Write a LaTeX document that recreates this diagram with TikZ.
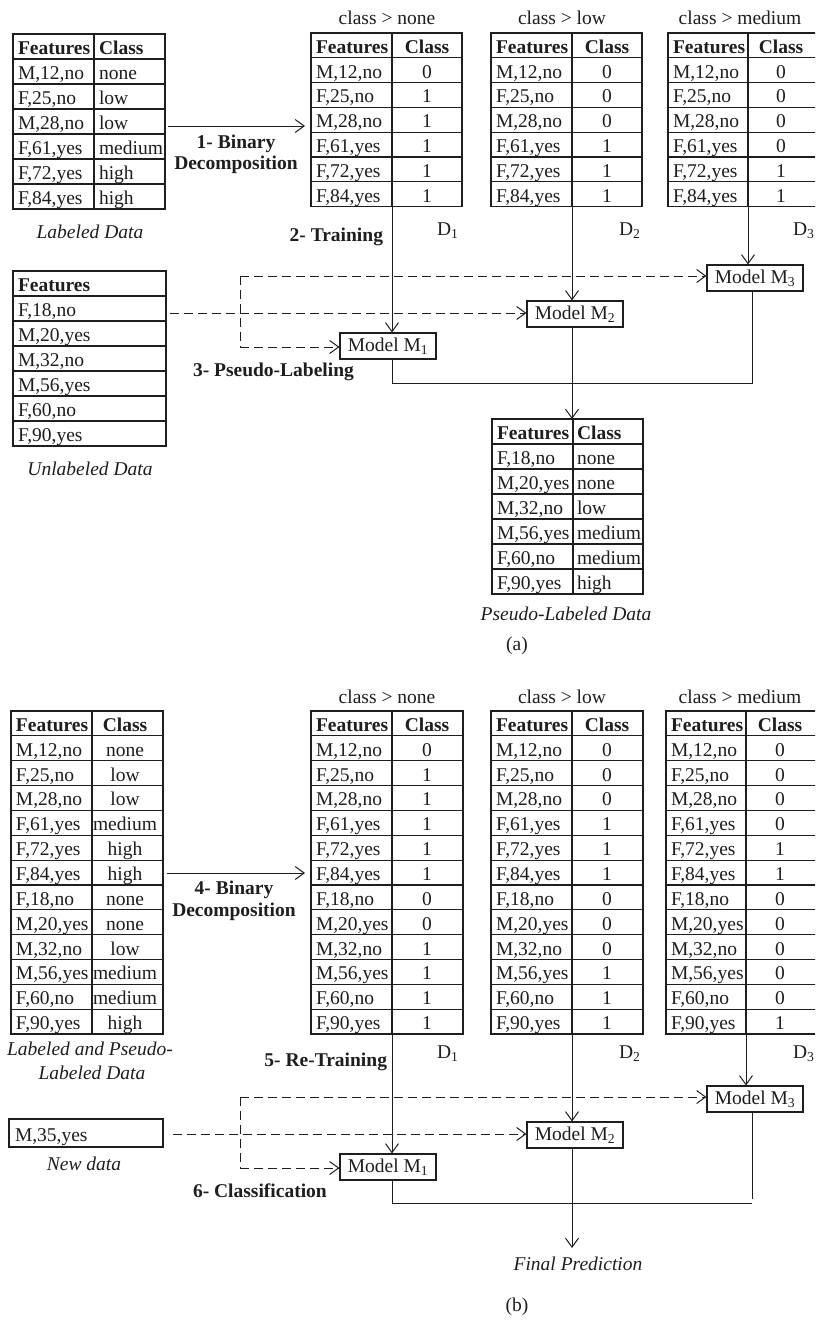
\documentclass[tikz,border=0pt]{standalone}
\usepackage{fontspec}
\setmainfont{Liberation Serif}
\usetikzlibrary{arrows.meta,calc}
\definecolor{ink}{RGB}{30,30,30}
\newcommand{\myfs}{\fontsize{19.5}{22}\selectfont}
\tikzset{
  tb/.style={draw=ink, line width=1.2pt},
  tl/.style={draw=ink, line width=1.1pt},
  txt/.style={inner sep=0pt, outer sep=0pt, text=ink, font=\myfs},
  conn/.style={draw=ink, line width=1pt},
  arr/.style={conn, -{Straight Barb[length=9pt,width=13pt,line width=1pt]}},
  dsh/.style={dash pattern=on 9pt off 5pt},
  model/.style={draw=ink, line width=1.1pt, minimum width=96pt, minimum height=26pt, inner sep=0pt, text=ink, font=\myfs},
}
% \tblgrid{name}{xl}{xd}{xr}{ytop}{rowh}{nrows}
\newcommand{\tblgrid}[7]{%
  \pgfmathsetmacro\tbh{#6*#7}%
  \node[tb, anchor=north west, inner sep=0pt, outer sep=0pt, minimum width={(#4-#2)*1pt}, minimum height={\tbh*1pt}] (#1) at (#2,#5) {};
  \pgfmathtruncatemacro\tbn{#7-1}%
  \foreach \k in {1,...,\tbn} {\draw[tl] (#2,{#5+\k*#6}) -- (#4,{#5+\k*#6});}
  \draw[tl] (#3,#5) -- (#3,{#5+\tbh});
  \coordinate (#1-d) at (#3,{#5+\tbh});
}
% \tbltext{name}{xf}{xc}{anchor}{ytop}{rowh}{list}
\newcommand{\tbltext}[7]{%
  \foreach \ff/\cc [count=\ii from 0] in {#7} {%
    \node[txt, anchor=base west] (#1-f\ii) at (#2,{#5+(\ii+1)*#6-4.5}) {\ff};
    \node[txt, anchor=#4] (#1-c\ii) at (#3,{#5+(\ii+1)*#6-4.5}) {\cc};
  }%
}
% \tblcol{name}{xf}{ytop}{rowh}{list}
\newcommand{\tblcol}[5]{%
  \foreach \ff [count=\ii from 0] in {#5} {%
    \node[txt, anchor=base west] (#1-f\ii) at (#2,{#3+(\ii+1)*#4-4.5}) {\ff};
  }%
}
\begin{document}
\begin{tikzpicture}[x=1pt,y=-1pt]
\useasboundingbox (0,0) rectangle (815,1323);
\fill[white] (0,0) rectangle (815,1323);
\clip (0,0) rectangle (815,1323);

%================ (a) ================
\node[txt, anchor=base] (cna) at (387,24) {class \textgreater{} none};
\node[txt, anchor=base] (cla) at (562,24) {class \textgreater{} low};
\node[txt, anchor=base] (cma) at (740,24) {class \textgreater{} medium};

\tblgrid{LT}{13}{94}{165}{34}{25}{7}
\tbltext{LT}{18}{99}{base west}{34}{25}{{\textbf{Features}}/{\textbf{Class}},{M,12,no}/none,{F,25,no}/low,{M,28,no}/low,{F,61,yes}/medium,{F,72,yes}/high,{F,84,yes}/high}
\node[txt, anchor=base, font=\myfs\itshape] (ldl) at (90,238) {Labeled Data};

\tblgrid{D1a}{311}{392}{462}{33}{24.8}{7}
\tbltext{D1a}{316}{427}{base}{33}{24.8}{{\textbf{Features}}/{\textbf{Class}},{M,12,no}/0,{F,25,no}/1,{M,28,no}/1,{F,61,yes}/1,{F,72,yes}/1,{F,84,yes}/1}
\tblgrid{D2a}{491}{572}{642}{33}{24.8}{7}
\tbltext{D2a}{496}{607}{base}{33}{24.8}{{\textbf{Features}}/{\textbf{Class}},{M,12,no}/0,{F,25,no}/0,{M,28,no}/0,{F,61,yes}/1,{F,72,yes}/1,{F,84,yes}/1}
\tblgrid{D3a}{668}{748}{820}{33}{24.8}{7}
\tbltext{D3a}{673}{781}{base}{33}{24.8}{{\textbf{Features}}/{\textbf{Class}},{M,12,no}/0,{F,25,no}/0,{M,28,no}/0,{F,61,yes}/0,{F,72,yes}/1,{F,84,yes}/1}

\node[txt, anchor=base west] (dl1a) at (437,235) {D\textsubscript{1}};
\node[txt, anchor=base west] (dl2a) at (619,235) {D\textsubscript{2}};
\node[txt, anchor=base west] (dl3a) at (793,235) {D\textsubscript{3}};

\coordinate (a1s) at (168,126);
\coordinate (a1e) at (305,126);
\draw[arr] (a1s) -- (a1e);
\node[txt, anchor=base, font=\myfs\bfseries] (bd1) at (236,148) {1- Binary};
\node[txt, anchor=base, font=\myfs\bfseries] (bd2) at (236,169) {Decomposition};
\node[txt, anchor=base east, font=\myfs\bfseries] (trn) at (383,241) {2- Training};

\node[model] (M1a) at (388,346) {Model M\textsubscript{1}};
\node[model] (M2a) at (575,314) {Model M\textsubscript{2}};
\node[model] (M3a) at (755,278) {Model M\textsubscript{3}};

\tblgrid{UL}{13}{13}{166}{271}{25}{7}
\tblcol{UL}{18}{271}{25}{{\textbf{Features}},{F,18,no},{M,20,yes},{M,32,no},{M,56,yes},{F,60,no},{F,90,yes}}
\node[txt, anchor=base, font=\myfs\itshape] (uld) at (90,475) {Unlabeled Data};

\node[txt, anchor=base west, font=\myfs\bfseries] (psl) at (193,376) {3- Pseudo-Labeling};

\draw[arr] (D1a-d) -- (D1a-d |- M1a.north);
\draw[arr] (D2a-d) -- (D2a-d |- M2a.north);
\draw[arr] (D3a-d) -- (D3a-d |- M3a.north);

\coordinate (bta) at (240,276);
\coordinate (bba) at (240,347);
\coordinate (usa) at (170,313);
\draw[conn,dsh] (bta) -- (bba);
\draw[arr,dsh] (bta) -- (bta -| M3a.west);
\draw[arr,dsh] (bba) -- (bba -| M1a.west);
\draw[arr,dsh] (usa) -- (usa -| M2a.west);

\coordinate (j3a) at (752,383);
\draw[conn] (D1a-d |- M1a.south) |- (j3a) -- (j3a |- M3a.south);

\tblgrid{PL}{492}{573}{643}{419}{25}{7}
\tbltext{PL}{497}{577}{base west}{419}{25}{{\textbf{Features}}/{\textbf{Class}},{F,18,no}/none,{M,20,yes}/none,{M,32,no}/low,{M,56,yes}/medium,{F,60,no}/medium,{F,90,yes}/high}
\draw[arr] (D2a-d |- M2a.south) -- (D2a-d |- PL.north);
\node[txt, anchor=base, font=\myfs\itshape] (pld) at (566,620) {Pseudo-Labeled Data};
\node[txt, anchor=base] (capa) at (517,650) {(a)};

%================ (b) ================
\node[txt, anchor=base] (cnb) at (387,703) {class \textgreater{} none};
\node[txt, anchor=base] (clb) at (562,703) {class \textgreater{} low};
\node[txt, anchor=base] (cmb) at (740,703) {class \textgreater{} medium};

\tblgrid{LP}{11}{92}{163}{711}{24.85}{13}
\tbltext{LP}{16}{125}{base}{711}{24.85}{{\textbf{Features}}/{\textbf{Class}},{M,12,no}/none,{F,25,no}/low,{M,28,no}/low,{F,61,yes}/medium,{F,72,yes}/high,{F,84,yes}/high,{F,18,no}/none,{M,20,yes}/none,{M,32,no}/low,{M,56,yes}/medium,{F,60,no}/medium,{F,90,yes}/high}
\node[txt, anchor=base, font=\myfs\itshape] (lpd1) at (90,1055) {Labeled and Pseudo-};
\node[txt, anchor=base, font=\myfs\itshape] (lpd2) at (92,1079) {Labeled Data};

\tblgrid{D1b}{311}{392}{463}{711}{24.85}{13}
\tbltext{D1b}{316}{427}{base}{711}{24.85}{{\textbf{Features}}/{\textbf{Class}},{M,12,no}/0,{F,25,no}/1,{M,28,no}/1,{F,61,yes}/1,{F,72,yes}/1,{F,84,yes}/1,{F,18,no}/0,{M,20,yes}/0,{M,32,no}/1,{M,56,yes}/1,{F,60,no}/1,{F,90,yes}/1}
\tblgrid{D2b}{491}{572}{643}{711}{24.85}{13}
\tbltext{D2b}{496}{607}{base}{711}{24.85}{{\textbf{Features}}/{\textbf{Class}},{M,12,no}/0,{F,25,no}/0,{M,28,no}/0,{F,61,yes}/1,{F,72,yes}/1,{F,84,yes}/1,{F,18,no}/0,{M,20,yes}/0,{M,32,no}/0,{M,56,yes}/1,{F,60,no}/1,{F,90,yes}/1}
\tblgrid{D3b}{666}{746}{818}{711}{24.85}{13}
\tbltext{D3b}{671}{780}{base}{711}{24.85}{{\textbf{Features}}/{\textbf{Class}},{M,12,no}/0,{F,25,no}/0,{M,28,no}/0,{F,61,yes}/0,{F,72,yes}/1,{F,84,yes}/1,{F,18,no}/0,{M,20,yes}/0,{M,32,no}/0,{M,56,yes}/0,{F,60,no}/0,{F,90,yes}/1}

\node[txt, anchor=base west] (dl1b) at (437,1058) {D\textsubscript{1}};
\node[txt, anchor=base west] (dl2b) at (619,1058) {D\textsubscript{2}};
\node[txt, anchor=base west] (dl3b) at (793,1058) {D\textsubscript{3}};

\coordinate (a4s) at (167,873);
\coordinate (a4e) at (305,873);
\draw[arr] (a4s) -- (a4e);
\node[txt, anchor=base, font=\myfs\bfseries] (bd4) at (234,894) {4- Binary};
\node[txt, anchor=base, font=\myfs\bfseries] (bd5) at (234,916) {Decomposition};
\node[txt, anchor=base east, font=\myfs\bfseries] (rtr) at (387,1066) {5- Re-Training};

\node[model] (M1b) at (388,1167) {Model M\textsubscript{1}};
\node[model] (M2b) at (575,1135) {Model M\textsubscript{2}};
\node[model] (M3b) at (755,1099) {Model M\textsubscript{3}};

\node[draw=ink, line width=1.1pt, anchor=north west, minimum width=154pt, minimum height=28pt, inner sep=0pt, outer sep=0pt] (ND) at (9,1119) {};
\node[txt, anchor=base west] (NDt) at (15,1141) {M,35,yes};
\node[txt, anchor=base, font=\myfs\itshape] (ndl) at (84,1170) {New data};

\node[txt, anchor=base west, font=\myfs\bfseries] (cls) at (193,1197) {6- Classification};

\draw[arr] (D1b-d) -- (D1b-d |- M1b.north);
\draw[arr] (D2b-d) -- (D2b-d |- M2b.north);
\draw[arr] (D3b-d) -- (D3b-d |- M3b.north);

\coordinate (btb) at (240,1097);
\coordinate (bbb) at (240,1168);
\coordinate (usb) at (173,1134);
\draw[conn,dsh] (btb) -- (bbb);
\draw[arr,dsh] (btb) -- (btb -| M3b.west);
\draw[arr,dsh] (bbb) -- (bbb -| M1b.west);
\draw[arr,dsh] (usb) -- (usb -| M2b.west);

\coordinate (j3b) at (752,1203);
\coordinate (e3b) at (752,1199);
\draw[conn] (D1b-d |- M1b.south) |- (j3b);
\draw[conn] (e3b |- M3b.south) -- (e3b);

\coordinate (fpe) at (572,1248);
\draw[arr] (D2b-d |- M2b.south) -- (fpe);
\node[txt, anchor=base, font=\myfs\itshape] (fpl) at (578,1270) {Final Prediction};
\node[txt, anchor=base] (capb) at (517,1311) {(b)};
\end{tikzpicture}
\end{document}
